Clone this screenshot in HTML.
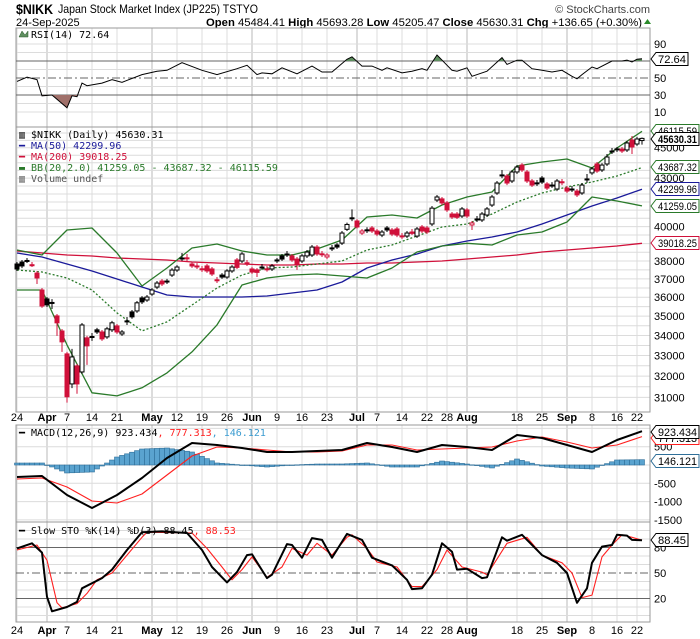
<!DOCTYPE html>
<html><head><meta charset="utf-8"><style>
html,body{margin:0;padding:0;background:#fff;}
svg{display:block;font-family:"Liberation Sans",Arial,sans-serif;}
.ax{font-size:11px;fill:#000;}
.lg{font-size:10px;font-family:"DejaVu Sans Mono","Liberation Mono",monospace;}
</style></head><body>
<svg id="chart" width="700" height="639" viewBox="0 0 700 639">
<rect x="0" y="0" width="700" height="639" fill="#fff"/>
<g>
<text x="16" y="14" font-size="14" font-weight="bold" textLength="37" lengthAdjust="spacingAndGlyphs">$NIKK</text>
<text x="58" y="13" font-size="12" textLength="200" lengthAdjust="spacingAndGlyphs">Japan Stock Market Index (JP225) TSTYO</text>
<text x="16" y="26" font-size="11">24-Sep-2025</text>
<text x="650" y="13" font-size="11" fill="#444" text-anchor="end">© StockCharts.com</text>
<text x="206" y="26" font-size="11" textLength="436" lengthAdjust="spacingAndGlyphs"><tspan font-weight="bold">Open</tspan> 45484.41  <tspan font-weight="bold">High</tspan> 45693.28  <tspan font-weight="bold">Low</tspan> 45205.47  <tspan font-weight="bold">Close</tspan> 45630.31  <tspan font-weight="bold">Chg</tspan> +136.65 (+0.30%)</text>
<polygon points="644,24 651,24 647.5,19" fill="#2a8a2a"/>
</g>
<g id="grid"></g>
<g id="panels"></g>
<g id="marks"></g>
<g id="labels"></g>
</svg>
<script>
// ---- data ----
const xLabels = ["24","Apr","7","14","21","May","12","19","26","Jun","9","16","23","Jul","7","14","22","28","Aug","18","25","Sep","8","16","22"];
const xLabelIdx = [0,6,10,15,20,27,32,37,42,47,52,57,62,68,72,77,82,86,90,100,105,110,115,120,124];
const monthLabels = ["Apr","May","Jun","Jul","Aug","Sep"];
const openP = [37830,37940,38000,37790,37320,36390,35910,35700,35010,34230,33080,31630,32490,32200,33880,33950,34290,34180,33930,34290,34490,34080,34720,35220,35270,35960,35850,36170,36550,36880,36830,37210,37490,38150,38180,37830,37720,37560,37720,37550,36950,37210,37100,37440,38060,38000,37900,37550,37500,37650,37560,37550,38060,38290,38380,38290,38110,38000,38290,38340,38800,38410,38230,38730,38920,39030,39840,40510,40340,39620,39790,39920,39740,39500,39920,39800,39860,39450,39440,39680,39440,39980,39920,40160,41620,41690,41440,40760,40760,40640,41010,40100,40450,40400,40700,41310,42060,43190,43140,42820,43400,43850,43400,42820,42680,43010,42630,42550,42310,42770,42370,42300,42180,42060,42940,43340,43920,43530,43920,44770,44910,44910,44850,45520,45250,45484.41];
const closeP = [37550,37720,38030,37770,37050,35530,35590,35720,34650,33680,31030,32930,31630,34540,33480,33930,34180,33830,34340,34650,34180,34180,34750,34960,35700,35750,36010,36390,36770,36720,36880,37490,37660,38170,38160,37720,37700,37550,37440,37270,36940,37100,37440,37660,37640,38400,37890,37380,37360,37660,37550,37720,38000,38110,38400,38060,37830,38290,38510,38800,38400,38390,38340,38750,38800,39620,40130,40530,39980,39740,39810,39740,39560,39680,39800,39560,39500,39440,39620,39600,39860,39740,39680,41120,41810,41440,41010,40580,40560,41070,40640,40220,40460,40760,41070,41810,42690,43210,42690,43400,43720,43530,42820,42560,42700,42750,42370,42560,42820,42750,42180,42310,41940,42560,42950,43600,43460,43850,44380,44780,44920,44780,45320,45050,45590,45630.31];
const highP = [37940,38060,38170,37940,37430,36500,36010,35900,35110,34330,33180,33330,32590,34640,33980,34130,34390,34280,34440,34750,34590,34280,34950,35320,35800,36060,36120,36500,36880,36990,37000,37600,37770,38460,38400,37940,37880,37720,37830,37660,37100,37320,37540,37770,38170,38510,38060,37660,37600,37830,37720,37830,38170,38400,38570,38400,38230,38400,38630,38920,38920,38570,38450,38920,39030,39740,40240,41040,40450,39860,39960,40040,39860,39800,40040,39920,39980,39620,39740,39860,39980,40100,40040,41250,41930,41810,41560,40880,40880,41190,41130,40340,40640,40880,41190,41930,42820,43530,43270,43530,43850,43980,43530,42950,42880,43140,42750,42750,42950,42950,42500,42500,42310,42690,43270,43720,44050,43980,44580,44980,45050,45050,45450,45790,45730,45693.28];
const lowP = [37440,37600,37890,37660,36720,35430,35480,35370,33980,33180,30760,31430,31170,32110,32540,33730,34080,33730,33830,34180,34080,33980,34540,34860,35170,35640,35750,36070,36440,36610,36720,37100,37380,38000,37950,37610,37550,37380,37330,37160,36770,37000,37000,37330,37550,37890,37720,37270,37100,37500,37400,37440,37890,38000,38230,37950,37500,37890,38170,38230,38290,38230,38110,38570,38690,38920,39740,40330,39880,39500,39620,39620,39440,39380,39680,39440,39380,39270,39330,39500,39330,39620,39560,40040,41500,41310,40880,40460,40460,40520,40520,39800,40280,40280,40580,41190,41940,43000,42560,42690,43270,43400,42690,42440,42500,42630,42250,42380,42180,42560,42060,42120,41810,41940,42700,43210,43340,43400,43790,44580,44710,44650,44710,44580,45120,45205.47];
const sampleIdx = [0,5,10,15,20,25,30,35,40,45,50,55,60,65,70,75,80,85,90,95,100,105,110,115,120,125];
const ma50 = [38455,38228,37830,37437,36993,36555,36121,36013,36013,36013,36067,36229,36391,36828,37605,38057,38399,38859,39151,39385,39681,40157,40702,41250,41747,42299.96];
const ma200 = [38570,38455,38342,38285,38170,38113,38057,37943,37887,37830,37774,37774,37830,37830,37887,37887,37943,38000,38113,38228,38342,38513,38627,38742,38859,39018.25];
const bbUpper = [38627,38342,39799,39919,38455,36609,37605,38742,38976,38570,38342,38342,38685,39210,40580,40702,40519,41312,41809,42121,43788,44053,44251,43657,44982,46115.59];
const bbMid = [37493,37381,37049,36391,35165,34234,34696,35587,36500,37215,37605,37662,37830,38000,38627,38917,39444,39977,40157,40763,41499,42059,42436,42755,43141,43687.32];
const bbLower = [36391,36391,33527,31212,31072,31446,32156,33179,34542,36664,37049,37215,37271,37159,37049,37605,38513,38859,39018,38917,39503,39681,40277,41809,41561,41259.05];
const rsiIdx = [0,2,4,5,7,10,11,12,13,14,17,19,21,25,28,30,33,37,40,44,46,48,49,51,53,56,59,61,63,66,67,69,71,73,74,77,79,81,82,84,87,88,90,91,94,97,98,100,101,103,105,107,109,111,112,113,115,116,119,121,122,123,124,125];
const rsiVal = [46,51,48,29,30,15,29,28,44,41,44,48,45,54,58,59,68,59,54,61,65,54,56,55,62,55,64,57,57,72,75,64,64,59,62,56,58,61,59,77,59,58,62,52,58,74,66,71,71,61,59,57,59,52,49,54,63,61,70,70,71,69,72,72.64];
const macdLine = [-328,-300,-819,-1174,-819,-355,191,601,546,464,355,355,382,410,601,491,355,546,491,410,819,737,546,355,683,923.434];
const signalLine = [-382,-355,-601,-983,-1037,-792,-273,246,491,464,410,355,355,382,546,546,410,437,464,491,655,764,628,464,546,777.313];
const stoKIdx = [0,3,5,6,7,10,12,13,17,19,22,25,29,34,37,39,42,44,46,47,50,51,54,55,57,59,61,63,66,69,71,75,78,79,81,83,85,87,88,90,93,94,97,98,101,105,108,110,112,114,115,117,119,120,122,123,125];
const stoK = [79,85,74,22,5,10,16,32,44,54,77,98,99,97,77,57,39,51,71,72,44,48,84,83,68,91,89,68,96,89,68,59,42,31,32,48,85,75,54,55,44,45,92,88,95,71,62,50,15,32,62,81,83,95,94,89,88.45];
const stoDIdx = [0,4,6,8,9,12,14,16,19,22,25,26,35,38,41,43,45,47,50,53,55,58,60,63,66,67,70,72,76,79,81,84,86,89,93,94,98,102,105,109,111,113,115,117,119,121,123,125];
const stoD = [77,83,65,15,9,14,26,42,50,71,92,98,97,79,57,42,54,69,45,57,79,71,85,71,92,95,79,63,57,34,34,54,77,57,51,48,85,92,71,62,50,21,24,69,83,95,92,88.53];

// ---- scales ----
const L=16, R=650;
const xS = i => 17 + 5*i;
const yP = v => 261 - 670*Math.log(v/38000);
const yRSI = v => 78 - (v-50)*0.85;
const yMACD = v => 465 - v*0.0366;
const ySTO = v => 573 - (v-50)*0.85;
const NS="http://www.w3.org/2000/svg";
function mk(tag, attrs, parent){const e=document.createElementNS(NS,tag);for(const k in attrs)e.setAttribute(k,attrs[k]);parent.appendChild(e);return e;}
const grid=document.getElementById('grid'), panels=document.getElementById('panels'), marks=document.getElementById('marks'), labels=document.getElementById('labels');
const P=[[28,127],[127,412],[425,522],[522,622]];

// vertical grid
xLabelIdx.forEach((idx,k)=>{
  const isM = monthLabels.includes(xLabels[k]);
  P.forEach(p=>{
    const ln=mk('line',{x1:xS(idx),x2:xS(idx),y1:p[0],y2:p[1],stroke:isM?'#b8b8b8':'#dcdcdc','stroke-width':1},grid);
    
    
  });
});
function hgrid(y){const ln=mk('line',{x1:L,x2:R,y1:y,y2:y,stroke:'#dcdcdc','stroke-width':1},grid);}
[90,80,60,40,20,10].forEach(v=>hgrid(yRSI(v)));
for(let v=31000;v<=46000;v+=500) if(yP(v)>128&&yP(v)<411) hgrid(yP(v));
[1000,500,0,-500,-1000,-1500].forEach(v=>hgrid(yMACD(v)));
[100,90,70,60,40,30,10,0].forEach(v=>hgrid(ySTO(v)));

// panel borders
P.forEach(p=>{const r=mk('rect',{x:L,y:p[0],width:R-L,height:p[1]-p[0],fill:'none',stroke:'#999','stroke-width':1},panels);});
function refLine(y,dash){const ln=mk('line',{x1:L,x2:R,y1:y,y2:y,stroke:'#666','stroke-width':1,'stroke-dasharray':dash||'none'},panels);}
refLine(yRSI(70));refLine(yRSI(50),'8,3,2,3');refLine(yRSI(30));
refLine(ySTO(80));refLine(ySTO(50),'8,3,2,3');refLine(ySTO(20));

function pathFrom(idxArr, valArr, yf){return idxArr.map((ix,k)=>(k?'L':'M')+xS(ix).toFixed(1)+','+yf(valArr[k]).toFixed(1)).join(' ');}

// RSI shading
const rsiD = pathFrom(rsiIdx,rsiVal,yRSI);
const defs=mk('defs',{},marks);
const c1=mk('clipPath',{id:'above70'},defs); mk('rect',{x:L,y:28,width:R-L,height:yRSI(70)-28},c1);
const c2=mk('clipPath',{id:'below30'},defs); mk('rect',{x:L,y:yRSI(30),width:R-L,height:127-yRSI(30)},c2);
const areaHi=mk('path',{d:rsiD+' L'+xS(125)+','+yRSI(70)+' L'+xS(0)+','+yRSI(70)+' Z',fill:'#5f8f60','clip-path':'url(#above70)'},marks);


const areaLo=mk('path',{d:rsiD+' L'+xS(125)+','+yRSI(30)+' L'+xS(0)+','+yRSI(30)+' Z',fill:'#a0706a','clip-path':'url(#below30)'},marks);


const rsiLine=mk('path',{d:rsiD,fill:'none',stroke:'#000','stroke-width':1},marks);



// main overlays
function line(idx,vals,yf,color,w,name,dash){const p=mk('path',{d:pathFrom(idx,vals,yf),fill:'none',stroke:color,'stroke-width':w,'stroke-dasharray':dash||'none','stroke-linejoin':'round'},marks);return p;}
line(sampleIdx,ma200,yP,'#d0103a',1.3,'ma200-line');
line(sampleIdx,ma50,yP,'#1a1a9a',1.3,'ma50-line');
line(sampleIdx,bbUpper,yP,'#2a7a2a',1.3,'bb-upper-line');
line(sampleIdx,bbLower,yP,'#2a7a2a',1.3,'bb-lower-line');
line(sampleIdx,bbMid,yP,'#2a7a2a',1.3,'bb-middle-line','2,2');

// candles
for(let i=0;i<closeP.length;i++){
  const o=openP[i],c=closeP[i],h=highP[i],l=lowP[i];
  const col=(i>0&&c<closeP[i-1])?'#d0103a':'#000';
  const x=xS(i);
  const w=mk('line',{x1:x,x2:x,y1:yP(h),y2:yP(l),stroke:col,'stroke-width':1},marks);
  
  
  const top=yP(Math.max(o,c)), bot=yP(Math.min(o,c));
  const hgt=Math.max(1,bot-top);
  const b=mk('rect',{x:x-2,y:top,width:4,height:hgt,fill:c>o?'#fff':col,stroke:col,'stroke-width':1},marks);
  
  
}

// MACD histogram (per bar, from sampled macd-signal)
const histVals = macdLine.map((m,k)=>m-signalLine[k]);
function interp(idxArr,vals,i){for(let k=0;k<idxArr.length-1;k++){if(i>=idxArr[k]&&i<=idxArr[k+1]){const t=(i-idxArr[k])/(idxArr[k+1]-idxArr[k]);return vals[k]+(vals[k+1]-vals[k])*t;}}return vals[vals.length-1];}
for(let i=0;i<=125;i++){
  const hv=interp(sampleIdx,histVals,i);
  const y0=yMACD(0), y1=yMACD(hv);
  const r=mk('rect',{x:xS(i)-2.5,y:Math.min(y0,y1),width:5,height:Math.max(0.5,Math.abs(y1-y0)),fill:'#5aa3cf',stroke:'#2f6f99','stroke-width':0.6},marks);
  
  
}
line(sampleIdx,signalLine,yMACD,'#ff2020',1.1,'macd-signal-line');
line(sampleIdx,macdLine,yMACD,'#000',2,'macd-line');

// STO
line(stoDIdx,stoD,ySTO,'#ff2020',1.1,'sto-d-line');
line(stoKIdx,stoK,ySTO,'#000',2,'sto-k-line');

// axis labels
function txt(x,y,s,attrs,name){const t=mk('text',Object.assign({x:x,y:y,class:'ax'},attrs||{}),labels);t.textContent=s;return t;}
[[90,'90'],[50,'50'],[30,'30'],[10,'10']].forEach(a=>txt(654,yRSI(a[0])+4,a[1],{},'rsi-axis-label'));
[31000,32000,33000,34000,35000,36000,37000,38000,40000,43000,45000].forEach(v=>txt(654,yP(v)+4,String(v),{},'price-axis-label'));
[[500,'500'],[-500,'-500'],[-1000,'-1000'],[-1500,'-1500']].forEach(a=>txt(654,yMACD(a[0])+4,a[1],{},'macd-axis-label'));
[[80,'80'],[50,'50'],[20,'20']].forEach(a=>txt(654,ySTO(a[0])+4,a[1],{},'sto-axis-label'));
[421,634].forEach(yy=>{xLabels.forEach((s,k)=>{const isM=monthLabels.includes(s);txt(xS(xLabelIdx[k]),yy,s,{'text-anchor':'middle','font-weight':isM?'bold':'normal','font-size':isM?'12':'11'},'x-axis-label');});});

// value tags
function tag(y,s,color,bold,name){
  const g=mk('g',{},labels);
  
  
  const tw=Math.min(39,s.length*5.6);
  const right=657+tw+3;
  mk('polygon',{points:`651,${y} 656,${y-6.5} ${right},${y-6.5} ${right},${y+6.5} 656,${y+6.5}`,fill:'#fff',stroke:color,'stroke-width':1},g);
  const t=mk('text',{x:658,y:y+4,'font-size':'11','font-weight':bold?'bold':'normal',fill:'#000',textLength:tw,lengthAdjust:'spacingAndGlyphs'},g);t.textContent=s;
}
tag(59,'72.64','#000',false,'rsi-value-tag');
tag(131,'46115.59','#2a7a2a',false,'bb-upper-tag');
tag(139,'45630.31','#000',true,'close-tag');
tag(167,'43687.32','#2a7a2a',false,'bb-middle-tag');
tag(189,'42299.96','#1a1a9a',false,'ma50-tag');
tag(206,'41259.05','#2a7a2a',false,'bb-lower-tag');
tag(243,'39018.25','#d0103a',false,'ma200-tag');
tag(438,'777.313','#ff2020',false,'macd-signal-tag');
tag(432,'923.434','#000',false,'macd-value-tag');
tag(461,'146.121','#2f6f99',false,'macd-hist-tag');
tag(540,'88.45','#000',false,'sto-value-tag');

// legends
function legend(x,y,parts,name){const t=mk('text',{x:x,y:y,class:'lg'},labels);parts.forEach(p=>{const s=mk('tspan',{fill:p[1]},t);s.textContent=p[0];});}
mk('polygon',{points:'19,37 22,31 25,35 28,31 28,37',fill:'#5f8f60',stroke:'#2a5a2a','stroke-width':0.5},labels);
legend(31,38,[['RSI(14) 72.64','#000']],'rsi-legend');
legend(19,138,[['▥ $NIKK (Daily) 45630.31','#000']],'price-legend');
legend(19,149,[['━ MA(50) 42299.96','#1a1a9a']],'ma50-legend');
legend(19,160,[['━ MA(200) 39018.25','#d0103a']],'ma200-legend');
legend(19,171,[['▬ BB(20,2.0) 41259.05 - 43687.32 - 46115.59','#2a7a2a']],'bb-legend');
legend(19,182,[['▥ Volume undef','#555']],'volume-legend');
legend(19,436,[['━ MACD(12,26,9) 923.434','#000'],[', 777.313','#ff2020'],[', 146.121','#3a9bd0']],'macd-legend');
legend(19,534,[['━ Slow STO %K(14) %D(3) 88.45','#000'],[', 88.53','#ff2020']],'sto-legend');
</script>
</body></html>
